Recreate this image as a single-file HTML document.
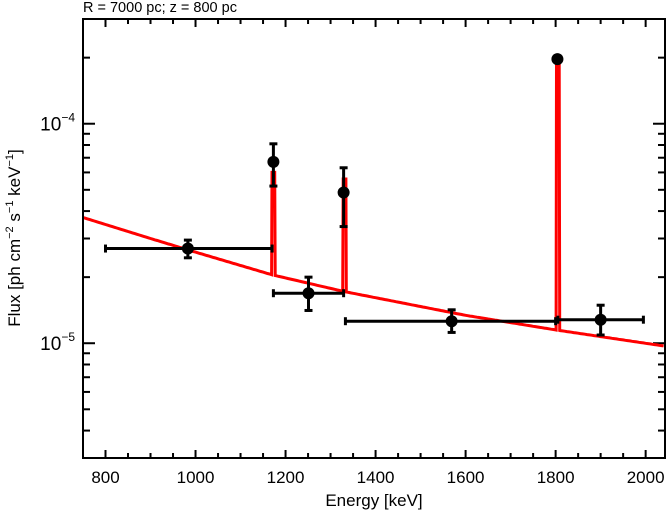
<!DOCTYPE html>
<html><head><meta charset="utf-8"><style>
html,body{margin:0;padding:0;background:#fff;}
svg{display:block;font-family:"Liberation Sans",Helvetica,sans-serif;}
</style></head><body>
<svg id="chart" width="667" height="513" viewBox="0 0 667 513">
<text x="83" y="12" font-size="14.5">R = 7000 pc; z = 800 pc</text>
<g id="ticks"></g>
<g id="cont"></g>
<g id="pts"></g>
<rect x="83" y="19" width="582" height="439" fill="none" stroke="#000" stroke-width="2"/>
<text x="374" y="506" font-size="17" text-anchor="middle">Energy [keV]</text>
<text transform="translate(20,238) rotate(-90)" font-size="17" text-anchor="middle">Flux [ph cm<tspan dy="-7" font-size="11">−2</tspan><tspan dy="7"> s</tspan><tspan dy="-7" font-size="11">−1</tspan><tspan dy="7"> keV</tspan><tspan dy="-7" font-size="11">−1</tspan><tspan dy="7">]</tspan></text>
</svg>
<script>
const xTicks=[800,1000,1200,1400,1600,1800,2000];
const yDecades=[-6,-5,-4];
const ptE=[983,1173,1251,1329,1569,1804,1900];
const ptF=[2.70e-5,6.7e-5,1.69e-5,4.86e-5,1.26e-5,1.97e-4,1.28e-5];
const ptElo=[800,1170,1173,1329,1333,1800,1805];
const ptEhi=[1170,1173,1329,1329,1800,1808,1995];
const ptFlo=[2.45e-5,5.2e-5,1.41e-5,3.4e-5,1.12e-5,1.92e-4,1.09e-5];
const ptFhi=[2.95e-5,8.1e-5,2.0e-5,6.3e-5,1.42e-5,2.02e-4,1.49e-5];
const contE=[750,900,1000,1170,1330,1600,1800,2043];
const contF=[3.74e-5,3.0e-5,2.6e-5,2.05e-5,1.72e-5,1.34e-5,1.15e-5,9.7e-6];
const lineE=[1173,1331,1805];
const lineF=[6.0e-5,5.6e-5,1.94e-4];

const NS="http://www.w3.org/2000/svg";
const X0=83,X1=665,Y0=19,Y1=458,EMIN=750,EMAX=2043,LMIN=Math.log10(3e-6),LMAX=Math.log10(3e-4);
const sx=e=>X0+(e-EMIN)/(EMAX-EMIN)*(X1-X0);
const sy=f=>Y1-(Math.log10(f)-LMIN)/(LMAX-LMIN)*(Y1-Y0);
function mk(tag,at,parent){const el=document.createElementNS(NS,tag);for(const k in at)el.setAttribute(k,at[k]);parent.appendChild(el);return el;}
const tg=document.getElementById('ticks');
for(let e=750;e<=EMAX;e+=50){
  const maj=xTicks.includes(e);const L=maj?8:5;const x=sx(e);
  let t=mk('line',{x1:x,x2:x,y1:Y1,y2:Y1-L,stroke:'#000','stroke-width':2},tg);
  
  t=mk('line',{x1:x,x2:x,y1:Y0,y2:Y0+L,stroke:'#000','stroke-width':2},tg);
  
}
xTicks.forEach(e=>{const t=mk('text',{x:sx(e),y:483,'font-size':17,'text-anchor':'middle'},tg);t.textContent=e;
  });
yDecades.forEach(d=>{for(let m=1;m<10;m++){const f=m*Math.pow(10,d);const y=sy(f);if(y<Y0-0.5||y>Y1+0.5)continue;
  const L=m===1?12:7;
  let t=mk('line',{x1:X0,x2:X0+L,y1:y,y2:y,stroke:'#000','stroke-width':2},tg);
  
  t=mk('line',{x1:X1,x2:X1-L,y1:y,y2:y,stroke:'#000','stroke-width':2},tg);
  
  if(m===1){const tx=mk('text',{x:75,y:y+7,'font-size':19,'text-anchor':'end'},tg);
    tx.innerHTML='10<tspan dy="-9" font-size="12">'+(d<0?'−':'')+Math.abs(d)+'</tspan>';
    }
}});
function cont(e){for(let i=0;i<contE.length-1;i++){if(e<=contE[i+1]){const t=(e-contE[i])/(contE[i+1]-contE[i]);
  return Math.pow(10,Math.log10(contF[i])+t*(Math.log10(contF[i+1])-Math.log10(contF[i])));}}return contF[contF.length-1];}
const cg=document.getElementById('cont');
let pts=[];const es=[];
for(let e=EMIN;e<=EMAX;e+=5)es.push(e);
lineE.forEach(le=>{es.push(le-4,le-3,le+3,le+4);});
es.sort((a,b)=>a-b);
es.forEach(e=>{let f=cont(e);lineE.forEach((le,i)=>{if(Math.abs(e-le)<4)f=lineF[i];});pts.push(sx(e).toFixed(1)+','+sy(f).toFixed(1));});
const pl=mk('polyline',{points:pts.join(' '),fill:'none',stroke:'#f00','stroke-width':3,'stroke-linejoin':'miter'},cg);

const pg=document.getElementById('pts');
ptE.forEach((e,i)=>{const g=mk('g',{},pg);
  
  const x=sx(e),y=sy(ptF[i]),xl=sx(ptElo[i]),xh=sx(ptEhi[i]),yl=sy(ptFlo[i]),yh=sy(ptFhi[i]);
  mk('line',{x1:xl,x2:xh,y1:y,y2:y,stroke:'#000','stroke-width':3},g);
  if(xh-xl>4){mk('line',{x1:xl,x2:xl,y1:y-4,y2:y+4,stroke:'#000','stroke-width':3},g);mk('line',{x1:xh,x2:xh,y1:y-4,y2:y+4,stroke:'#000','stroke-width':3},g);}
  mk('line',{x1:x,x2:x,y1:yl,y2:yh,stroke:'#000','stroke-width':3},g);
  mk('line',{x1:x-4,x2:x+4,y1:yl,y2:yl,stroke:'#000','stroke-width':3},g);
  mk('line',{x1:x-4,x2:x+4,y1:yh,y2:yh,stroke:'#000','stroke-width':3},g);
  mk('circle',{cx:x,cy:y,r:6,fill:'#000'},g);
});
</script>
</body></html>
